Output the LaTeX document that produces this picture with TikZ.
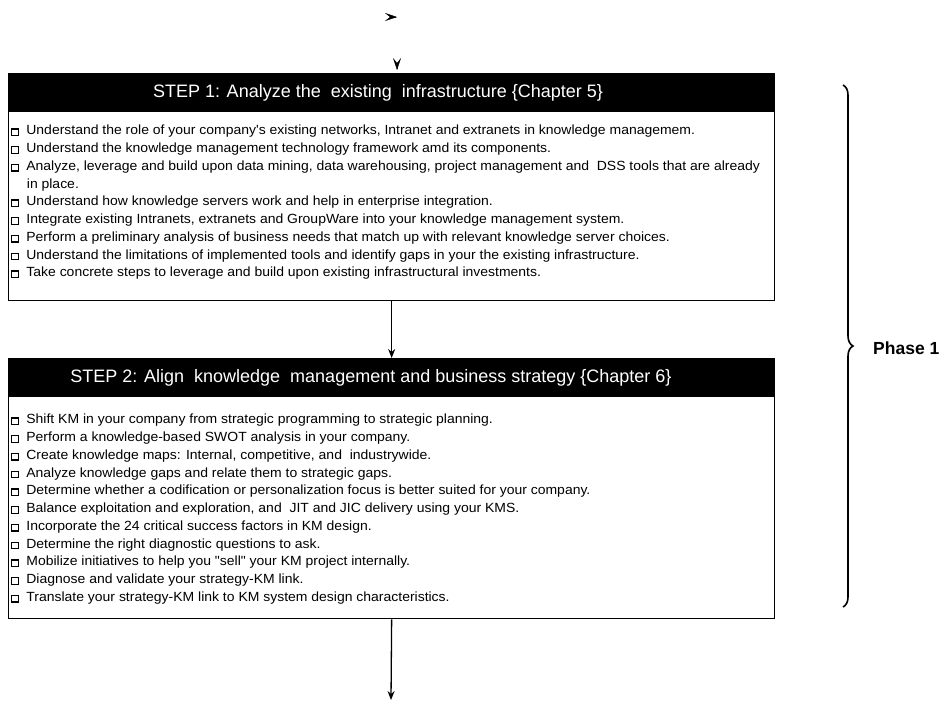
\documentclass[tikz,border=0pt]{standalone}
\usepackage{fontspec}
\setmainfont{Liberation Sans}
\newfontfamily\itemfont[FakeStretch=1.05]{Liberation Sans}
\usetikzlibrary{arrows.meta,decorations.pathreplacing}
% small hollow square used as a bullet
\newcommand\chk{{\fboxsep=0pt\fboxrule=1.2pt\fbox{\rule{0pt}{5.3pt}\rule{5.3pt}{0pt}}}\hspace{7.5pt}}
\begin{document}
\begin{tikzpicture}[x=1pt,y=-1pt,
  stepframe/.style={draw=black, line width=1.3pt, anchor=north west, minimum width=766pt, inner sep=0},
  stephead/.style={fill=black, anchor=north west, minimum width=766pt, minimum height=39pt, inner sep=0},
  headtext/.style={text=white, font=\fontsize{18}{20}\selectfont, inner sep=0},
  itemlist/.style={anchor=north west, align=left, inner sep=0, font=\itemfont\fontsize{13.3}{17.75}\selectfont},
  flow/.style={draw=black, line width=1.3pt, -{Stealth[length=9pt,width=7pt,inset=3pt]}},
  loosetip/.style={draw=black, line width=0.4pt, -{Stealth[length=12pt,width=8pt,inset=5pt]}},
  phasebrace/.style={draw=black, line width=1.6pt, decorate, decoration={brace, amplitude=10pt}},
]
\useasboundingbox (0,0) rectangle (944,702);

% loose arrow tips above the first step
\coordinate (tipA) at (397,17);
\coordinate (tipB) at (397,70);
\draw[loosetip] ([xshift=-1pt]tipA) -- (tipA);
\draw[loosetip] ([yshift=1pt]tipB) -- (tipB);

% ---------- STEP 1 ----------
\node[stepframe, minimum height=227pt] (s1) at (8,73) {};
\node[stephead] (h1) at (s1.north west) {};
\node[headtext] (t1) at (378,92.5) {STEP 1: Analyze the\ \ existing\ \ infrastructure \{Chapter 5\}};
\node[itemlist] (l1) at (11,125) {%
\chk Understand the role of your company's existing networks, Intranet and extranets in knowledge managemem.\\
\chk Understand the knowledge management technology framework amd its components.\\
\chk Analyze, leverage and build upon data mining, data warehousing, project management and\ \ DSS tools that are already\\
\hspace{15.7pt}in place.\\
\chk Understand how knowledge servers work and help in enterprise integration.\\
\chk Integrate existing Intranets, extranets and GroupWare into your knowledge management system.\\
\chk Perform a preliminary analysis of business needs that match up with relevant knowledge server choices.\\
\chk Understand the limitations of implemented tools and identify gaps in your the existing infrastructure.\\
\chk Take concrete steps to leverage and build upon existing infrastructural investments.};

% ---------- STEP 2 ----------
\node[stepframe, minimum height=260pt] (s2) at (8,358) {};
\node[stephead] (h2) at (s2.north west) {};
\node[headtext] (t2) at (371,377.5) {STEP 2: Align\ \ knowledge\ \ management and business strategy \{Chapter 6\}};
\node[itemlist] (l2) at (11,414) {%
\chk Shift KM in your company from strategic programming to strategic planning.\\
\chk Perform a knowledge-based SWOT analysis in your company.\\
\chk Create knowledge maps: Internal, competitive, and\ \ industrywide.\\
\chk Analyze knowledge gaps and relate them to strategic gaps.\\
\chk Determine whether a codification or personalization focus is better suited for your company.\\
\chk Balance exploitation and exploration, and\ \ JIT and JIC delivery using your KMS.\\
\chk Incorporate the 24 critical success factors in KM design.\\
\chk Determine the right diagnostic questions to ask.\\
\chk Mobilize initiatives to help you "sell" your KM project internally.\\
\chk Diagnose and validate your strategy-KM link.\\
\chk Translate your strategy-KM link to KM system design characteristics.};

% ---------- connectors ----------
\coordinate (out) at (391,700);
\draw[flow] (s1.south) -- (s2.north);
\draw[flow] (s2.south) -- (out);

% ---------- phase brace ----------
\coordinate (braceTop) at (843,85);
\coordinate (braceBot) at (843,607);
\draw[phasebrace] (braceTop) -- (braceBot);
\node[anchor=west, font=\bfseries\fontsize{17.5}{20}\selectfont, inner sep=0] (phase) at (873,348) {Phase 1};
\end{tikzpicture}
\end{document}
